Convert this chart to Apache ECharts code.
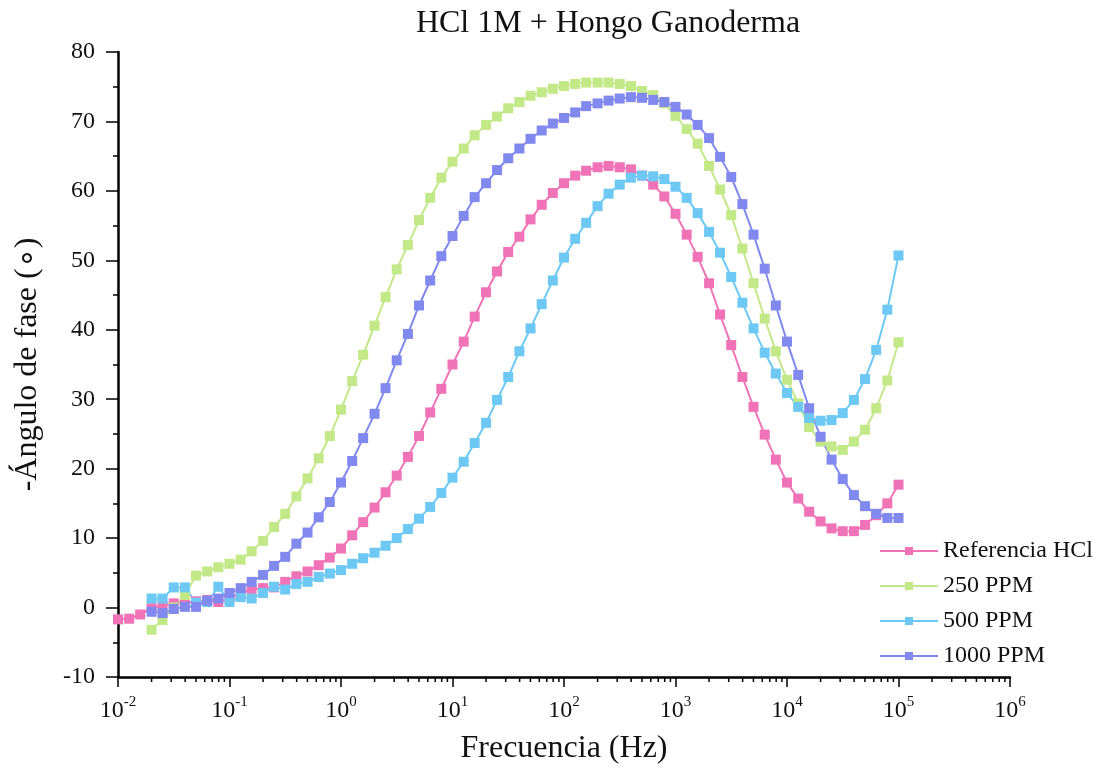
<!DOCTYPE html>
<html lang="es">
<head>
<meta charset="UTF-8">
<title>HCl 1M + Hongo Ganoderma</title>
<script src="https://cdn.jsdelivr.net/npm/echarts@6/dist/echarts.min.js"></script>
<style>
    html, body { margin: 0; padding: 0; background: #fff; }
    #chart { width: 1099px; height: 774px; }
</style>
</head>
<body>
<div id="chart"></div>
<script>
// frecuencias (Hz), 10 puntos por decada, de 10^-2 a 10^5
var freq = [
    0.01, 0.0126, 0.0158, 0.02, 0.0251, 0.0316, 0.0398, 0.0501, 0.0631, 0.0794,
    0.1, 0.126, 0.158, 0.2, 0.251, 0.316, 0.398, 0.501, 0.631, 0.794,
    1, 1.26, 1.58, 2, 2.51, 3.16, 3.98, 5.01, 6.31, 7.94,
    10, 12.6, 15.8, 20, 25.1, 31.6, 39.8, 50.1, 63.1, 79.4,
    100, 126, 158, 200, 251, 316, 398, 501, 631, 794,
    1000, 1260, 1580, 2000, 2510, 3160, 3980, 5010, 6310, 7940,
    10000, 12600, 15800, 20000, 25100, 31600, 39800, 50100, 63100, 79400,
    100000
];

// -angulo de fase, Referencia HCl (empieza en 10^-2)
var refHCl = [
    -1.7, -1.6, -1.0, -0.1, 0.3, 0.6, 0.7, 0.9, 1.1, 0.8,
    1.3, 2.1, 2.6, 2.8, 2.9, 3.7, 4.5, 5.2, 6.1, 7.2,
    8.5, 10.4, 12.3, 14.4, 16.6, 19.0, 21.7, 24.7, 28.1, 31.5,
    35.0, 38.3, 41.9, 45.4, 48.4, 51.2, 53.4, 55.9, 58.0, 59.7,
    61.1, 62.2, 62.9, 63.4, 63.6, 63.4, 63.1, 62.2, 60.9, 59.2,
    56.7, 53.7, 50.5, 46.7, 42.2, 37.8, 33.2, 28.9, 24.9, 21.3,
    18.0, 15.7, 13.8, 12.4, 11.4, 11.0, 11.0, 11.9, 13.3, 15.0,
    17.7
];

// las muestras con hongo empiezan en 0.02 Hz
var ppm250 = [
    -3.2, -1.8, 0.0, 1.8, 4.6, 5.2, 5.8,
    6.3, 6.9, 8.1, 9.6, 11.6, 13.5, 16.0, 18.6, 21.5, 24.7,
    28.5, 32.6, 36.4, 40.6, 44.7, 48.7, 52.2, 55.8, 59.0, 61.9,
    64.2, 66.1, 68.0, 69.5, 70.7, 71.9, 72.8, 73.7, 74.2, 74.7,
    75.1, 75.4, 75.6, 75.6, 75.6, 75.4, 75.1, 74.4, 73.8, 72.6,
    70.8, 68.9, 66.8, 63.6, 60.2, 56.5, 51.7, 46.7, 41.6, 36.9,
    32.8, 29.4, 26.0, 23.9, 23.2, 22.7, 23.9, 25.6, 28.7, 32.7,
    38.2
];

var ppm500 = [
    1.3, 1.3, 2.9, 2.9, 0.7, 0.8, 3.0,
    0.8, 1.5, 1.3, 2.1, 3.0, 2.6, 3.4, 3.7, 4.4, 4.9,
    5.4, 6.3, 7.1, 7.9, 8.9, 10.0, 11.3, 12.8, 14.5, 16.5,
    18.7, 21.0, 23.7, 26.6, 29.9, 33.2, 36.9, 40.2, 43.7, 47.1,
    50.4, 53.1, 55.4, 57.8, 59.6, 60.9, 61.9, 62.2, 62.1, 61.7,
    60.6, 59.0, 56.8, 54.1, 51.1, 47.6, 43.9, 40.2, 36.7, 33.7,
    30.9, 28.9, 27.3, 26.9, 27.0, 28.0, 29.9, 32.9, 37.1, 42.9,
    50.7
];

var ppm1000 = [
    -0.6, -0.8, -0.2, 0.1, 0.1, 1.0, 1.3,
    2.1, 2.8, 3.7, 4.7, 6.0, 7.3, 9.2, 10.8, 13.0, 15.2,
    18.0, 21.1, 24.4, 27.9, 31.6, 35.6, 39.4, 43.5, 47.1, 50.6,
    53.5, 56.4, 59.1, 61.1, 63.0, 64.7, 66.1, 67.5, 68.7, 69.7,
    70.5, 71.3, 72.2, 72.6, 73.0, 73.3, 73.5, 73.4, 73.1, 72.8,
    72.1, 71.0, 69.5, 67.6, 64.9, 62.0, 58.1, 53.7, 48.8, 43.5,
    38.3, 33.5, 28.7, 24.6, 21.3, 18.5, 16.2, 14.6, 13.5, 12.9,
    12.9
];

var names = ['Referencia HCl', '250 PPM', '500 PPM', '1000 PPM'];
var colors = ['#f073b7', '#c3e888', '#6dc9f4', '#8189ee'];

var serif = '"Liberation Serif", "Times New Roman", serif';

function pairs(xs, ys) {
    var off = xs.length - ys.length;
    var out = [];
    for (var i = 0; i < ys.length; i++) {
        out.push([xs[i + off], ys[i]]);
    }
    return out;
}

function mkSeries(i, vals) {
    return {
        name: names[i],
        type: 'line',
        data: pairs(freq, vals),
        symbol: 'rect',
        symbolSize: 10,
        showAllSymbol: true,
        lineStyle: { width: 2, color: colors[i] },
        itemStyle: { color: colors[i] },
        animation: false
    };
}

var chart = echarts.init(document.getElementById('chart'));
chart.setOption({
    backgroundColor: '#fff',
    animation: false,
    title: {
        text: 'HCl 1M + Hongo Ganoderma',
        left: 603,
        top: 3,
        textAlign: 'center',
        textStyle: { fontFamily: serif, fontSize: 32, fontWeight: 'normal', color: '#111' }
    },
    grid: { left: 118, right: 89, top: 52, bottom: 97 },
    legend: {
        data: names,
        orient: 'vertical',
        left: 874,
        top: 534,
        itemWidth: 58,
        itemHeight: 10,
        itemGap: 11,
        textStyle: { fontFamily: serif, fontSize: 24, color: '#111' }
    },
    xAxis: {
        type: 'log',
        logBase: 10,
        min: 0.01,
        max: 1000000,
        splitNumber: 10,
        name: 'Frecuencia (Hz)',
        nameLocation: 'middle',
        nameGap: 56,
        nameTextStyle: { fontFamily: serif, fontSize: 32, color: '#111' },
        axisLine: { onZero: false, lineStyle: { color: '#000', width: 2.5 } },
        axisTick: { length: 10, lineStyle: { color: '#000', width: 1.5 } },
        splitLine: { show: false },
        axisLabel: {
            margin: 18,
            formatter: function (v) {
                var e = Math.round(Math.log(v) / Math.LN10);
                return '{b|10}{s|' + e + '}';
            },
            rich: {
                b: { fontFamily: serif, fontSize: 24, color: '#111', lineHeight: 28, verticalAlign: 'bottom' },
                s: { fontFamily: serif, fontSize: 15, color: '#111', lineHeight: 15, verticalAlign: 'top' }
            }
        }
    },
    yAxis: {
        type: 'value',
        min: -10,
        max: 80,
        interval: 10,
        name: '-Ángulo de fase (∘)',
        nameLocation: 'middle',
        nameGap: 74,
        nameRotate: 90,
        nameTextStyle: { fontFamily: serif, fontSize: 32, color: '#111' },
        axisLine: { show: true, lineStyle: { color: '#000', width: 2.5 } },
        axisTick: { show: true, length: 12, lineStyle: { color: '#000', width: 1.5 } },
        minorTick: { show: true, splitNumber: 2, length: 5, lineStyle: { color: '#000', width: 1.5 } },
        splitLine: { show: false },
        axisLabel: { fontFamily: serif, fontSize: 24, color: '#111', margin: 23 }
    },
    series: [
        mkSeries(0, refHCl),
        mkSeries(1, ppm250),
        mkSeries(2, ppm500),
        mkSeries(3, ppm1000)
    ]
});

// marcas menores del eje logaritmico (2..9 en cada decada)
function minorLogTicks() {
    var y0 = chart.convertToPixel({ yAxisIndex: 0 }, -10);
    var els = [];
    for (var n = -2; n < 6; n++) {
        for (var k = 2; k <= 9; k++) {
            var x = chart.convertToPixel({ xAxisIndex: 0 }, k * Math.pow(10, n));
            els.push({
                type: 'line',
                shape: { x1: x, y1: y0, x2: x, y2: y0 + 5 },
                style: { stroke: '#000', lineWidth: 1.5 },
                silent: true
            });
        }
    }
    chart.setOption({ graphic: els });
}
minorLogTicks();
</script>
</body>
</html>
